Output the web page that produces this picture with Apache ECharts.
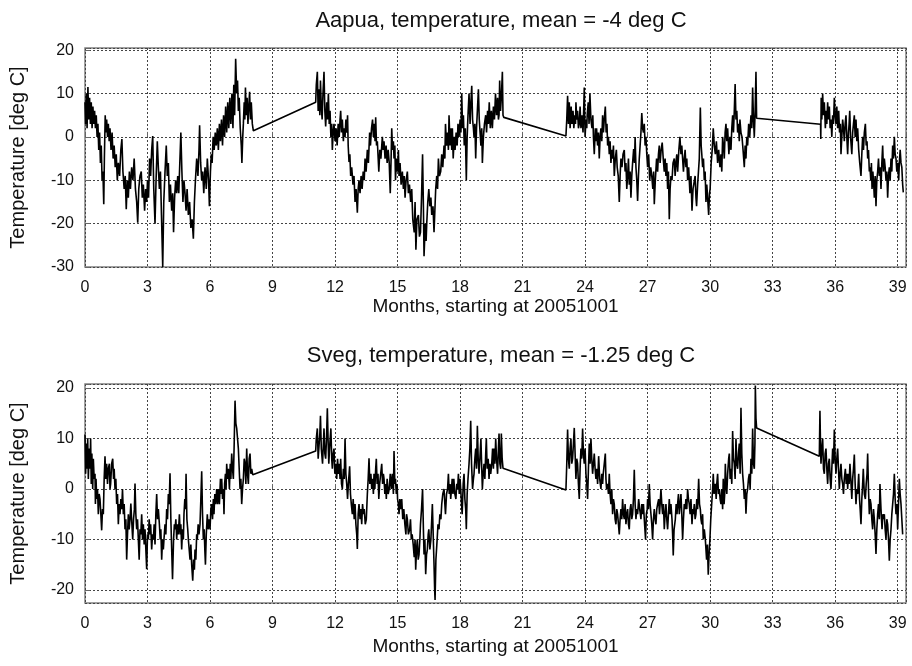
<!DOCTYPE html>
<html>
<head>
<meta charset="utf-8">
<script src="https://cdn.jsdelivr.net/npm/echarts@6/dist/echarts.min.js"></script>
<style>
  html, body { margin: 0; padding: 0; background: #fff; }
  #chart { width: 912px; height: 666px; }
</style>
</head>
<body>
<div id="chart"></div>
<script>
// [month since 2005-10-01, temperature deg C]
const aapuaData = [
  [0,8],[0.03,3],[0.06,10],[0.1,2],[0.14,11.5],[0.18,4],[0.22,9],[0.26,3],[0.3,8],[0.34,2],[0.38,7],[0.42,3],[0.46,6],[0.5,2],[0.54,5],[0.58,0],[0.62,3],[0.66,-3],[0.7,1],[0.74,-6],[0.78,-2],[0.82,-10],[0.86,-8],[0.9,-15.5],[0.93,-5],[0.97,5],[1.0,1],[1.04,4],[1.08,0],[1.12,3],[1.16,-1],[1.2,2],[1.25,-3],[1.3,1],[1.35,-5],[1.4,-2],[1.45,-7],[1.5,-4],[1.55,-10],[1.6,-6],[1.66,-9],[1.72,-3],[1.77,-0.5],[1.82,-8],[1.88,-12],[1.93,-9],[1.98,-16.7],[2.03,-10],[2.08,-14],[2.13,-8],[2.18,-12],[2.24,-7],[2.3,-10],[2.36,-5],[2.42,-12],[2.48,-15],[2.53,-19.8],[2.58,-12],[2.64,-9],[2.7,-8],[2.75,-14],[2.8,-11],[2.86,-17],[2.91,-12],[2.96,-15],[3.0,-10],[3.05,-14],[3.1,-5],[3.15,-9],[3.2,-3],[3.25,0.2],[3.3,-12],[3.36,-20],[3.41,-10],[3.47,-1],[3.52,-7],[3.57,-12],[3.62,-8],[3.67,-18],[3.73,-30],[3.78,-15],[3.84,-8],[3.9,-2],[3.95,-9],[4.0,-6],[4.05,-15],[4.1,-11],[4.16,-17],[4.21,-13],[4.25,-22],[4.3,-14],[4.35,-10],[4.4,-13],[4.45,-9],[4.5,-13],[4.55,-6],[4.6,1],[4.65,-8],[4.7,-15],[4.75,-10],[4.8,-13],[4.85,-17],[4.9,-12],[4.96,-18],[5.02,-15],[5.08,-21],[5.14,-19],[5.2,-23.5],[5.25,-15],[5.3,-10],[5.36,-5],[5.42,-9],[5.47,-3],[5.5,2.7],[5.55,-6],[5.6,-10],[5.65,-8],[5.7,-13],[5.76,-7],[5.82,-12],[5.87,-5],[5.93,-10],[5.97,-16],[6.02,-8],[6.06,-4],[6.1,-6],[6.15,0],[6.2,-3],[6.25,1],[6.3,-2],[6.35,2],[6.4,-3],[6.45,3],[6.5,-1],[6.55,4],[6.6,-2],[6.65,5],[6.7,0],[6.75,7],[6.8,1],[6.85,8],[6.9,2],[6.95,9],[7.0,3],[7.05,10],[7.1,2],[7.14,12],[7.18,5],[7.23,18],[7.28,10],[7.32,13],[7.36,6],[7.4,9],[7.45,2],[7.5,-2],[7.53,-6],[7.57,0],[7.6,3],[7.64,8],[7.67,4],[7.7,11.4],[7.74,5],[7.78,9],[7.82,3],[7.86,7],[7.9,10.4],[7.94,4],[7.98,8],[8.03,3],[8.08,1.4],
  [11.07,8],[11.1,12],[11.15,15],[11.19,6],[11.23,11],[11.27,5],[11.3,13],[11.34,7],[11.38,4],[11.42,10],[11.47,15],[11.51,6],[11.55,2.4],[11.6,8],[11.64,4],[11.68,10],[11.72,3],[11.76,6],[11.8,0],[11.84,3],[11.87,-3],[11.91,1],[11.95,3],[12.0,-1],[12.05,2],[12.1,-2],[12.15,3],[12.2,0],[12.24,4],[12.27,6],[12.31,1],[12.35,4],[12.4,-1],[12.43,2],[12.48,0],[12.52,4],[12.57,1],[12.6,5],[12.63,-2],[12.67,-5.8],[12.71,-4],[12.75,-9],[12.8,-7],[12.86,-11],[12.91,-9],[12.96,-15],[13.01,-12],[13.07,-17.5],[13.11,-12],[13.15,-10],[13.2,-13],[13.25,-9],[13.3,-12],[13.35,-8],[13.4,-10],[13.44,-5],[13.49,-8],[13.55,-3],[13.6,-6],[13.66,1],[13.7,-2],[13.75,2],[13.8,4],[13.84,0],[13.88,3],[13.92,-1],[13.95,4.5],[13.99,-2],[14.03,-1],[14.07,-5],[14.1,-8],[14.15,-3],[14.2,-5],[14.27,0],[14.31,-3],[14.35,-1],[14.4,-5],[14.45,-2],[14.5,-6],[14.55,-3],[14.6,-6],[14.65,-13],[14.69,-5],[14.72,2],[14.76,-3],[14.8,-1],[14.83,-5],[14.87,-2],[14.9,-10],[14.95,-5],[15.0,-8],[15.04,-3],[15.07,-9],[15.12,-6],[15.17,-11],[15.23,-8],[15.28,-12],[15.32,-9],[15.36,-14],[15.41,-10],[15.47,-8],[15.52,-13],[15.57,-11],[15.63,-15],[15.68,-12],[15.73,-19],[15.8,-22],[15.84,-15],[15.88,-26],[15.93,-19],[16.0,-18],[16.05,-23],[16.1,-22],[16.15,-14],[16.2,-4],[16.24,-16],[16.27,-27.5],[16.33,-20],[16.37,-24],[16.4,-20],[16.45,-15],[16.5,-12],[16.55,-16],[16.6,-14],[16.64,-18],[16.7,-16],[16.75,-22],[16.79,-17],[16.83,-12],[16.88,-9],[16.92,-12],[16.96,-5],[17.01,-9],[17.07,-8],[17.12,-4],[17.17,-7],[17.23,-2],[17.27,-5],[17.3,3],[17.35,-2],[17.4,1],[17.44,-3],[17.47,5],[17.52,-2],[17.56,2],[17.6,-3],[17.63,2],[17.67,-5],[17.72,0],[17.76,-3],[17.81,1],[17.86,-2],[17.9,3],[17.95,0],[18.0,4],[18.04,1],[18.08,10],[18.12,2],[18.16,5],[18.2,-2],[18.25,2],[18.3,-10],[18.34,0],[18.38,5],[18.43,10],[18.48,3],[18.52,8],[18.56,11.8],[18.6,4],[18.64,2],[18.67,0],[18.71,3],[18.75,-5],[18.79,2],[18.83,6],[18.88,11],[18.92,4],[18.96,1],[19.0,-2],[19.04,2],[19.07,-6],[19.12,0],[19.17,3],[19.23,5],[19.27,1],[19.32,6],[19.36,3],[19.4,8],[19.45,2],[19.5,6],[19.55,2],[19.6,7],[19.65,4],[19.7,10],[19.75,5],[19.8,9],[19.84,4],[19.87,5],[19.9,13],[19.94,6],[19.98,9],[20.03,15],[20.06,5],[20.1,4.5],
  [23.08,0.2],[23.12,4],[23.16,9.5],[23.2,3],[23.24,8],[23.28,2],[23.33,7],[23.37,3],[23.42,6],[23.46,2],[23.5,5],[23.54,3],[23.56,8],[23.6,4],[23.64,6],[23.68,2],[23.72,3],[23.76,7],[23.8,2],[23.85,5],[23.9,1],[23.93,6],[23.96,11.4],[24.0,0],[24.04,4],[24.08,2],[24.1,5],[24.15,8],[24.19,3],[24.23,10],[24.28,4],[24.33,2],[24.37,5],[24.4,0],[24.44,-4],[24.49,2],[24.52,-1],[24.55,2],[24.6,-2],[24.64,1],[24.68,-5],[24.72,0],[24.76,2],[24.8,-1],[24.84,5],[24.88,1],[24.92,4],[24.97,7],[25.01,1],[25.05,3],[25.08,-2],[25.12,0],[25.16,-4],[25.2,-1],[25.24,-6],[25.28,-3],[25.32,-5],[25.36,-2],[25.4,-9],[25.45,-5],[25.5,-3],[25.54,-7],[25.59,-9],[25.64,-15],[25.68,-9],[25.72,-5],[25.77,-7],[25.82,-4],[25.88,-3],[25.92,-8],[25.96,-6],[26.0,-12],[26.04,-9],[26.08,-5],[26.12,-11],[26.16,-8],[26.2,-14],[26.24,-9],[26.28,-6],[26.33,-2.8],[26.37,-6],[26.4,0],[26.44,-7],[26.48,-10],[26.52,-14.8],[26.56,-9],[26.6,-5],[26.64,-2],[26.68,1],[26.72,5.5],[26.76,2],[26.8,1],[26.84,3],[26.88,-2],[26.92,0],[26.96,-4],[27.0,-7],[27.05,-4],[27.1,-10],[27.15,-7],[27.2,-9],[27.25,-12],[27.29,-8],[27.32,-15.5],[27.37,-10],[27.43,-5],[27.48,-8],[27.52,-4],[27.56,-2],[27.6,-6],[27.65,-3],[27.7,-1.3],[27.75,-5],[27.8,-8],[27.84,-5],[27.88,-9],[27.92,-6],[27.96,-12],[28.0,-8],[28.04,-19],[28.08,-12],[28.12,-9],[28.17,-10],[28.22,-6],[28.28,-5],[28.32,-9],[28.36,-6],[28.4,-4],[28.44,-8],[28.5,-3],[28.55,0],[28.6,-4],[28.64,-2],[28.68,-5],[28.72,-8],[28.76,-5],[28.8,-3],[28.84,-7],[28.88,-5],[28.92,-10],[28.97,-7],[29.03,-13],[29.08,-9],[29.13,-17],[29.18,-12],[29.24,-12],[29.28,-9],[29.32,-14],[29.35,-16],[29.4,-11],[29.44,-8],[29.48,-5],[29.53,6.8],[29.57,-2],[29.6,-4],[29.64,-7],[29.68,-5],[29.72,-10],[29.76,-8],[29.8,-15],[29.84,-11],[29.88,-14],[29.93,-18],[29.97,-13],[30.0,-12],[30.05,-6],[30.1,-3],[30.15,2],[30.2,-2],[30.25,-4],[30.3,-1],[30.36,-6],[30.41,-3],[30.47,-7],[30.52,-4],[30.56,-8],[30.6,0],[30.64,-2],[30.68,-5],[30.72,1],[30.76,3],[30.8,-1],[30.84,2],[30.9,-4],[30.95,0],[31.0,-3],[31.04,2],[31.08,5],[31.12,1],[31.16,6],[31.2,12.2],[31.24,4],[31.28,6],[31.32,1],[31.36,3],[31.4,-1],[31.43,4],[31.48,1],[31.53,0],[31.58,-3],[31.64,-7],[31.68,-2],[31.72,-5],[31.76,0],[31.8,-2],[31.85,3],[31.9,0],[31.96,5],[32.0,2],[32.04,11.4],[32.08,4],[32.12,0],[32.16,6],[32.2,15],[32.23,4.3],
  [35.3,2.9],[35.31,-0.5],[35.33,9],[35.36,4],[35.4,10],[35.44,5],[35.48,8],[35.53,2],[35.57,6],[35.6,3],[35.64,8],[35.68,4],[35.72,7],[35.76,2],[35.8,4],[35.84,0],[35.88,5],[35.92,3],[35.96,9],[36.0,5],[36.04,3],[36.08,7],[36.12,2],[36.17,6],[36.21,1],[36.25,3],[36.28,-4],[36.32,0],[36.36,4],[36.4,2],[36.44,-1],[36.48,3],[36.52,5],[36.56,0],[36.6,-4],[36.64,1],[36.67,3],[36.7,6],[36.74,0],[36.8,-4],[36.84,1],[36.88,3],[36.92,5],[36.96,0],[37.0,4],[37.04,-1],[37.08,2],[37.13,-3],[37.18,-6],[37.24,-9],[37.28,-4],[37.32,0],[37.36,-3],[37.4,1],[37.45,3],[37.49,-2],[37.53,-1],[37.56,-5],[37.6,-3],[37.64,-8],[37.67,-7],[37.71,-10],[37.74,-6],[37.77,-12],[37.81,-8],[37.85,-11],[37.88,-14],[37.92,-9],[37.96,-16],[38.0,-10],[38.04,-8],[38.08,-5],[38.12,-9],[38.16,-7],[38.2,-12],[38.24,-6],[38.28,-2],[38.32,-8],[38.36,-5],[38.4,-7],[38.44,-10],[38.48,-8],[38.52,-14],[38.56,-9],[38.6,-7],[38.64,-10],[38.68,-5],[38.72,-8],[38.76,-2],[38.8,-5],[38.84,0],[38.88,-4],[38.92,-5],[38.96,-8],[39.0,-6],[39.05,-10],[39.08,-6],[39.12,-3],[39.16,-6],[39.2,-7],[39.24,-11],[39.27,-12.8]
];

const svegData = [
  [0,10.8],[0.03,3],[0.06,9],[0.1,4],[0.13,10],[0.16,2],[0.2,8],[0.24,4],[0.27,10],[0.3,1],[0.33,7],[0.37,0],[0.4,6],[0.44,2],[0.48,3],[0.5,-3],[0.53,2],[0.56,-2],[0.6,0],[0.64,-5],[0.68,-1],[0.72,-2],[0.76,-5],[0.8,-8.2],[0.84,-4],[0.88,-5],[0.92,2],[0.96,6.5],[1.0,2],[1.04,5],[1.08,1],[1.12,4],[1.17,5],[1.2,0],[1.23,1],[1.28,5],[1.33,6],[1.37,2],[1.4,4],[1.44,0],[1.48,2],[1.52,-3],[1.56,-1],[1.6,-7],[1.64,-3],[1.68,-5],[1.72,-2],[1.76,-4],[1.8,0],[1.84,-5],[1.88,-3],[1.92,-8],[1.96,-6],[2.0,-14],[2.04,-9],[2.08,-5],[2.12,-8],[2.16,-6],[2.2,-2.9],[2.25,-7],[2.29,-10],[2.33,-6],[2.37,-4],[2.4,1.1],[2.44,-5],[2.48,-8],[2.52,-6],[2.56,-10],[2.6,-14],[2.64,-8],[2.68,-9],[2.72,-5],[2.76,-10],[2.8,-7],[2.84,-11],[2.88,-8],[2.92,-12],[2.96,-15.9],[3.0,-9],[3.04,-10],[3.08,-6],[3.12,-9],[3.15,-7],[3.2,-12],[3.24,-9],[3.28,-10],[3.32,-7],[3.36,-11],[3.4,-5],[3.44,-1],[3.48,-6],[3.52,-4],[3.57,-7],[3.61,-10],[3.64,-8],[3.68,-14],[3.72,-10],[3.76,-12],[3.79,-10],[3.84,-7],[3.88,-9],[3.92,-4],[3.96,-6],[4.0,-1],[4.04,-3],[4.08,3.1],[4.12,-6],[4.16,-12],[4.2,-17.9],[4.25,-10],[4.29,-7],[4.32,-8],[4.36,-6],[4.4,-10],[4.44,-7],[4.48,-9],[4.53,-5],[4.57,-9],[4.6,-7],[4.64,-12],[4.68,-8],[4.72,-10],[4.75,-5],[4.79,-2],[4.82,-4],[4.85,3],[4.89,-6],[4.93,-8],[4.96,-10],[5.0,-12],[5.04,-14],[5.08,-11],[5.12,-15],[5.17,-18.2],[5.21,-14],[5.25,-16],[5.28,-12],[5.32,-14],[5.36,-9],[5.39,-10],[5.43,-7],[5.47,-9],[5.52,-7],[5.56,-2],[5.6,3.5],[5.64,-5],[5.68,-10],[5.72,-8],[5.75,-12],[5.78,-15],[5.82,-9],[5.87,-5],[5.91,-8],[5.95,-6],[6.0,-8],[6.04,-4],[6.08,-3],[6.12,-6],[6.16,-2],[6.19,-5],[6.23,-1],[6.27,-3],[6.32,0],[6.36,-3],[6.4,0],[6.45,-3],[6.5,2],[6.53,-1],[6.56,2],[6.6,-2],[6.64,0],[6.67,-5],[6.7,1],[6.74,3],[6.77,0],[6.8,5],[6.84,2],[6.88,4],[6.93,0],[6.97,5],[7.0,2],[7.04,7],[7.08,4],[7.12,2],[7.16,9],[7.2,17.5],[7.24,13],[7.28,12],[7.32,10],[7.36,8],[7.4,4],[7.44,0],[7.48,2],[7.52,-3],[7.56,0],[7.6,2],[7.64,6],[7.68,5],[7.72,1],[7.76,8],[7.8,3],[7.84,1],[7.88,6],[7.92,7],[7.96,3],[8.0,4],[8.05,2.8],
  [11.07,7.5],[11.1,10],[11.15,12],[11.19,6],[11.23,6],[11.27,11],[11.3,14.5],[11.34,8],[11.4,5],[11.44,9],[11.47,12],[11.51,7],[11.55,6],[11.59,10],[11.63,16],[11.67,9],[11.7,5],[11.75,9],[11.8,12],[11.84,6],[11.87,4],[11.91,7],[11.95,8],[11.99,3],[12.03,5],[12.08,2],[12.12,6],[12.16,3],[12.2,5],[12.24,2],[12.27,6],[12.31,1],[12.35,0],[12.4,4],[12.44,2],[12.48,10],[12.52,3],[12.56,1],[12.6,-2],[12.64,1],[12.7,4.5],[12.74,-1],[12.78,-3],[12.83,-5],[12.87,-2],[12.92,-6],[12.96,-3],[13.0,-7],[13.04,-9],[13.07,-11.9],[13.11,-5],[13.15,-3],[13.2,-6],[13.24,-4],[13.28,-7],[13.32,-3],[13.36,-5],[13.4,-4],[13.45,-7],[13.5,-6],[13.55,-1],[13.59,2],[13.63,6.1],[13.67,1],[13.72,3],[13.76,0],[13.8,2],[13.84,-1],[13.87,3],[13.91,0],[13.95,4],[13.98,6],[14.02,1],[14.06,3],[14.1,-2],[14.14,1],[14.19,3],[14.24,5],[14.28,1],[14.32,3],[14.35,2],[14.39,-1],[14.43,1],[14.46,-2],[14.5,2],[14.55,-1],[14.6,0],[14.65,3],[14.7,0],[14.75,3],[14.8,-1],[14.83,7.5],[14.87,1],[14.9,2],[14.94,-1],[14.98,1],[15.0,-2],[15.04,-3],[15.07,-5],[15.11,-2],[15.15,-4],[15.2,-2],[15.25,-6],[15.3,-4],[15.35,-7],[15.4,-9],[15.43,-5],[15.47,-6],[15.52,-9],[15.58,-8],[15.62,-6],[15.66,-10],[15.7,-9],[15.75,-11],[15.8,-13.5],[15.84,-10],[15.87,-16],[15.91,-12],[15.95,-10],[15.99,-14],[16.03,-13],[16.07,-10],[16.1,-7],[16.15,-4],[16.2,0],[16.24,-8],[16.27,-13],[16.31,-10],[16.35,-16.9],[16.39,-13],[16.43,-12],[16.47,-9],[16.5,-8],[16.55,-12],[16.6,-10],[16.64,-6],[16.67,-3],[16.71,-9],[16.75,-15],[16.78,-20],[16.8,-22],[16.84,-14],[16.9,-10],[16.94,-7],[16.99,-8],[17.03,-5],[17.08,-6],[17.12,-3],[17.17,-1],[17.23,0],[17.27,-3],[17.3,-5],[17.35,-1],[17.4,0],[17.44,3],[17.48,-1],[17.52,1],[17.55,-2],[17.59,0],[17.62,2],[17.66,-1],[17.7,2],[17.75,-1],[17.8,-2],[17.84,1],[17.88,0],[17.92,3],[17.96,-1],[18.0,2],[18.03,0],[18.07,-3],[18.1,-5],[18.15,1],[18.19,3],[18.23,-2],[18.27,-4],[18.3,-8],[18.34,-1],[18.38,2],[18.43,5],[18.47,8],[18.51,13.5],[18.55,5],[18.6,0],[18.64,2],[18.67,3],[18.71,6],[18.75,8],[18.79,4],[18.83,12.5],[18.87,6],[18.91,3],[18.95,6],[19.0,10],[19.04,4],[19.07,0],[19.11,3],[19.15,5],[19.19,2],[19.23,7],[19.26,10],[19.3,4],[19.35,6],[19.39,2],[19.43,5],[19.47,3],[19.52,5],[19.56,8],[19.6,4],[19.63,8],[19.67,5],[19.71,10],[19.75,6],[19.8,3],[19.84,8],[19.87,11],[19.91,5],[19.95,4],[19.98,11],[20.02,6],[20.06,4.1],
  [23.08,-0.2],[23.12,5],[23.16,11.8],[23.2,6],[23.24,4],[23.28,8],[23.32,10],[23.36,5],[23.4,6],[23.44,9],[23.48,12.1],[23.52,7],[23.56,2],[23.6,6],[23.64,5],[23.68,1],[23.72,-2],[23.76,4],[23.8,8],[23.84,6],[23.88,12],[23.92,7],[23.96,5],[24.0,8],[24.04,3],[24.08,1],[24.12,-2],[24.16,4],[24.2,9],[24.24,5],[24.28,10],[24.32,6],[24.36,3],[24.4,5],[24.44,7],[24.48,4],[24.52,2],[24.56,4],[24.6,1],[24.65,6.5],[24.7,2],[24.76,0],[24.8,3],[24.84,1],[24.87,3],[24.92,5],[24.97,7],[25.0,2],[25.03,0],[25.08,1],[25.12,-1],[25.16,3],[25.2,-1],[25.24,-3],[25.28,0],[25.32,-5],[25.36,-2],[25.4,-3],[25.44,-6],[25.48,-7],[25.52,-4],[25.56,-5],[25.6,-7],[25.64,-9],[25.68,-6],[25.72,-4],[25.76,-6],[25.8,-2],[25.84,-5],[25.88,-6],[25.92,-3],[25.96,-7],[26.0,-5],[26.04,-4],[26.08,-7],[26.12,-8],[26.16,-4],[26.2,-3],[26.24,-6],[26.28,-5],[26.32,-2],[26.36,3.8],[26.4,-3],[26.44,-6],[26.48,-4],[26.52,-5],[26.57,-2],[26.62,-4],[26.68,-6],[26.72,-3],[26.76,-5],[26.8,-3],[26.84,-6],[26.9,-10],[26.94,-5],[26.98,-4],[27.0,-2],[27.04,-4],[27.08,1],[27.12,-3],[27.16,-5],[27.2,-7],[27.24,-10],[27.28,-6],[27.32,-4],[27.36,-6],[27.4,-7],[27.44,-4],[27.48,-3],[27.53,-2],[27.57,-5],[27.6,-3],[27.64,0],[27.68,-3],[27.72,-5],[27.76,-3],[27.8,-8],[27.84,-5],[27.88,-3],[27.92,-6],[27.96,-8],[28.0,-5],[28.04,-2],[28.08,-5],[28.12,-3],[28.17,-6],[28.2,-9],[28.23,-13.2],[28.27,-8],[28.33,-6],[28.37,-3],[28.41,-5],[28.44,-3],[28.48,-1],[28.52,-5],[28.56,-3],[28.6,-1],[28.64,-5],[28.68,-10],[28.72,-6],[28.76,-3],[28.8,-4],[28.84,-2],[28.88,-4],[28.92,0],[28.96,-2],[29.0,-3],[29.04,-5],[29.08,-2],[29.13,-7],[29.17,-4],[29.2,-5],[29.24,-3],[29.28,-6],[29.32,-5],[29.36,-2],[29.4,-4],[29.45,2],[29.49,-3],[29.53,-4],[29.56,-6],[29.6,-7],[29.64,-5],[29.67,-10],[29.72,-8],[29.77,-10],[29.8,-12],[29.83,-14],[29.87,-11],[29.91,-17],[29.95,-13],[29.99,-10],[30.03,-6],[30.06,-4],[30.09,-2],[30.12,0],[30.15,3],[30.19,-1],[30.22,0],[30.25,1],[30.29,-2],[30.32,1],[30.36,3],[30.4,-1],[30.44,0],[30.48,-2],[30.52,-3],[30.56,0],[30.6,-4],[30.63,2],[30.67,-3],[30.7,-1],[30.73,5],[30.76,1],[30.8,-1],[30.84,3],[30.89,6],[30.92,7],[30.96,2],[31.0,4],[31.04,1],[31.08,11.5],[31.12,6],[31.16,5],[31.2,2],[31.24,10],[31.28,5],[31.32,4],[31.36,7],[31.4,9],[31.44,3],[31.48,16.1],[31.52,7],[31.56,3],[31.6,1],[31.64,-2],[31.68,0],[31.72,-4.9],[31.76,-1],[31.8,0],[31.84,2],[31.88,3],[31.92,0],[31.96,6],[32.0,3],[32.04,12],[32.08,5],[32.12,4],[32.15,9],[32.17,20.5],[32.2,14],[32.23,12.1],
  [35.24,6.5],[35.27,15.5],[35.3,8],[35.32,5],[35.36,8],[35.4,10],[35.44,4],[35.48,3],[35.52,7],[35.56,8],[35.6,4],[35.64,1],[35.68,5],[35.72,6],[35.76,2],[35.8,0],[35.84,4],[35.88,8],[35.92,5],[35.96,11.8],[36.0,6],[36.04,3],[36.08,6],[36.12,8],[36.16,4],[36.2,0],[36.24,3],[36.28,5],[36.32,2],[36.36,1],[36.4,-1],[36.44,2],[36.49,4],[36.53,1],[36.57,3],[36.6,0],[36.64,3],[36.67,1],[36.71,5],[36.75,2],[36.8,-2],[36.84,2],[36.88,4],[36.92,6.8],[36.96,1],[37.0,-3],[37.04,0],[37.08,-1],[37.13,3],[37.17,-2],[37.2,-4],[37.24,-7],[37.28,-2],[37.32,1],[37.35,4],[37.4,-1],[37.45,-2],[37.49,1],[37.53,3],[37.56,7],[37.6,0],[37.64,-5],[37.68,-2],[37.72,-3],[37.76,-6],[37.8,-8],[37.84,-4],[37.88,-6],[37.92,-9],[37.96,-12.9],[38.0,-8],[38.04,-5],[38.08,-3],[38.12,-6],[38.15,1],[38.2,-4],[38.25,-8],[38.29,-5],[38.33,-6],[38.36,-5],[38.4,-8],[38.44,-10],[38.48,-6],[38.52,-7],[38.56,-10],[38.6,-14.2],[38.64,-10],[38.68,-8],[38.72,-5],[38.76,-3],[38.8,-1],[38.84,3],[38.88,-2],[38.92,-5],[38.96,-3],[39.0,-8],[39.04,-3],[39.08,2],[39.12,-1],[39.16,-3],[39.2,-6],[39.24,-9]
];

const panelTitles = ['Aapua, temperature, mean = -4 deg C', 'Sveg, temperature, mean = -1.25 deg C'];
const xTitle = 'Months, starting at 20051001';
const yTitle = 'Temperature [deg C]';

const FONT = 'Liberation Sans, Arial, sans-serif';
const chart = echarts.init(document.getElementById('chart'));

function onGrid(v, step) {
  return Math.abs(v / step - Math.round(v / step)) < 1e-6 ? String(v) : '';
}

function xAxisOf(i) {
  return {
    type: 'value', gridIndex: i, min: 0, max: 39.4, interval: 3,
    name: xTitle, nameLocation: 'middle', nameGap: i === 0 ? 29 : 34,
    nameTextStyle: { fontFamily: FONT, fontSize: 19, color: '#111' },
    axisLine: { show: false },
    axisTick: { show: true, inside: true, length: 5, lineStyle: { color: '#666' } },
    axisLabel: { fontFamily: FONT, fontSize: 16, color: '#111', margin: 13,
      formatter: v => onGrid(v, 3) },
    splitLine: { show: true, lineStyle: { color: '#444', width: 1, type: [2, 2] } }
  };
}

function yAxisOf(i, lo, hi) {
  return {
    type: 'value', gridIndex: i, min: lo, max: hi,
    interval: i === 0 ? 10 : undefined,
    splitNumber: 4,
    name: yTitle, nameLocation: 'middle', nameGap: 57,
    nameTextStyle: { fontFamily: FONT, fontSize: 20, color: '#111' },
    axisLine: { show: false },
    axisTick: { show: true, inside: true, length: 5, lineStyle: { color: '#666' } },
    axisLabel: { fontFamily: FONT, fontSize: 16, color: '#111', margin: 11,
      showMinLabel: i === 0, formatter: v => onGrid(v, 10) },
    splitLine: { show: true, lineStyle: { color: '#444', width: 1, type: [2, 2] } }
  };
}

chart.setOption({
  animation: false,
  backgroundColor: '#fff',
  title: panelTitles.map((t, i) => ({
    text: t, left: 496, top: i === 0 ? 5 : 340, textAlign: 'center',
    textStyle: { fontFamily: FONT, fontSize: 22, fontWeight: 'normal', color: '#111' }
  })),
  grid: [
    { left: 85, top: 48, width: 821, height: 219, show: true, borderColor: '#808080', borderWidth: 1.5 },
    { left: 85, top: 384, width: 821, height: 219, show: true, borderColor: '#808080', borderWidth: 1.5 }
  ],
  xAxis: [xAxisOf(0), xAxisOf(1)],
  yAxis: [yAxisOf(0, -30, 20.5), yAxisOf(1, -22.6, 20.8)],
  series: [aapuaData, svegData].map((d, i) => ({
    type: 'line', xAxisIndex: i, yAxisIndex: i, data: d,
    showSymbol: false, clip: true,
    lineStyle: { color: '#000', width: 1.6 }
  }))
});
</script>
</body>
</html>
